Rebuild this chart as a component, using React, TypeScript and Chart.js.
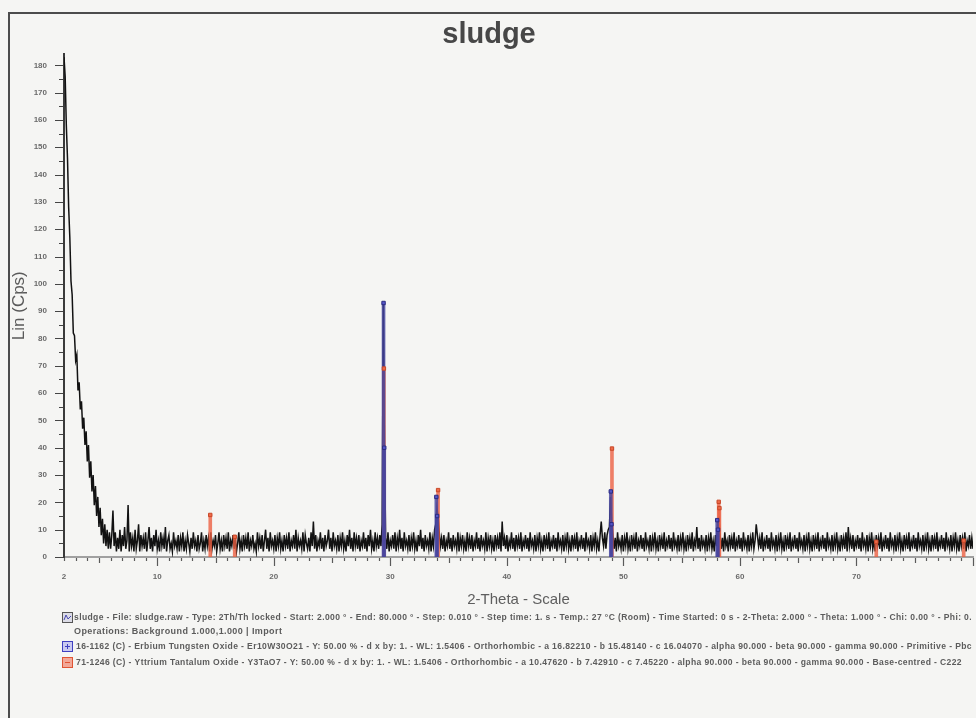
import React, { useEffect, useRef } from "react";
import { Chart, registerables } from "chart.js";

Chart.register(...registerables);

// Scan settings (2-Theta, degrees)
const scanStart = 2.0;
const scanStep = 0.1;

// Measured intensity, Lin (Cps), one row per degree from 2 to 79, then 80
const intensity: number[] = [
  183, 176, 158, 146, 128, 117, 101, 96, 82, 81,
  72, 74, 61, 64, 54, 57, 47, 51, 41, 46,
  35, 41, 29, 35, 24, 30, 19, 26, 15, 22,
  11, 18, 8, 14, 5, 12, 4, 10, 3, 9,
  3, 8, 17, 4, 9, 2, 7, 3, 10, 2,
  8, 4, 11, 3, 6, 19, 2, 9, 4, 7,
  2, 10, 3, 6, 12, 2, 8, 4, 7, 3,
  9, 2, 6, 11, 3, 7, 2, 8, 4, 10,
  3, 6, 2, 9, 4, 7, 3, 11, 2, 6,
  8, 3, 5, 2, 9, 4, 6, 3, 8, 2,
  7, 4, 9, 2, 6, 3, 8, 5, 2, 7,
  3, 9, 4, 6, 2, 8, 3, 5, 9, 2,
  6, 3, 8, 4, 7, 2, 9, 3, 6, 4,
  8, 2, 5, 9, 3, 6, 2, 8, 4, 7,
  3, 9, 2, 6, 4, 8, 3, 7, 2, 5,
  9, 3, 6, 2, 8, 4, 7, 3, 9, 2,
  6, 4, 8, 3, 5, 2, 9, 4, 7, 3,
  8, 2, 6, 10, 3, 7, 2, 9, 4, 6,
  3, 8, 2, 7, 4, 9, 3, 6, 2, 8,
  4, 7, 3, 9, 2, 6, 4, 8, 3, 10,
  2, 7, 4, 6, 3, 9, 2, 8, 5, 3,
  7, 2, 9, 4, 13, 3, 8, 2, 6, 4,
  9, 3, 7, 2, 8, 4, 6, 10, 3, 7,
  2, 9, 4, 6, 3, 8, 2, 7, 4, 9,
  3, 6, 2, 8, 4, 10, 3, 7, 2, 9,
  4, 7, 3, 8, 2, 6, 4, 9, 3, 7,
  2, 8, 4, 10, 3, 6, 2, 9, 4, 7,
  3, 8, 4, 12, 93, 40, 7, 3, 9, 2,
  6, 4, 8, 3, 9, 2, 7, 4, 10, 3,
  7, 2, 9, 4, 6, 3, 8, 2, 7, 4,
  9, 3, 6, 2, 8, 4, 10, 3, 7, 2,
  8, 4, 6, 3, 9, 2, 7, 4, 10, 12,
  18, 15, 9, 4, 7, 3, 8, 2, 6, 4,
  9, 3, 7, 2, 8, 4, 6, 3, 9, 2,
  7, 4, 8, 3, 6, 2, 9, 4, 7, 3,
  8, 2, 6, 4, 9, 3, 7, 2, 8, 4,
  6, 3, 9, 2, 7, 4, 8, 3, 6, 2,
  8, 4, 7, 3, 9, 2, 13, 4, 7, 3,
  8, 2, 6, 4, 9, 3, 7, 2, 8, 4,
  7, 3, 9, 2, 6, 4, 8, 3, 7, 2,
  9, 4, 6, 3, 8, 2, 7, 4, 9, 3,
  6, 2, 8, 4, 7, 3, 9, 2, 6, 4,
  8, 3, 7, 2, 9, 4, 6, 3, 8, 2,
  7, 4, 9, 3, 6, 2, 8, 4, 7, 3,
  9, 2, 6, 4, 8, 3, 7, 2, 9, 4,
  6, 3, 8, 2, 7, 4, 9, 3, 6, 2,
  8, 13, 7, 4, 9, 3, 8, 10, 11, 22,
  13, 8, 3, 7, 2, 9, 4, 6, 3, 8,
  2, 7, 4, 9, 3, 6, 2, 8, 4, 7,
  3, 9, 2, 6, 4, 8, 3, 7, 2, 9,
  4, 6, 3, 8, 2, 7, 4, 9, 3, 6,
  2, 8, 4, 7, 3, 9, 2, 6, 4, 8,
  3, 7, 2, 9, 4, 6, 3, 8, 2, 7,
  4, 9, 3, 6, 2, 8, 4, 7, 3, 9,
  2, 6, 4, 11, 3, 7, 2, 8, 4, 6,
  3, 8, 2, 7, 4, 9, 3, 6, 2, 8,
  4, 13, 14, 8, 3, 7, 2, 9, 4, 6,
  2, 8, 4, 7, 3, 9, 2, 6, 4, 8,
  3, 7, 2, 9, 4, 6, 3, 8, 2, 7,
  4, 9, 3, 6, 12, 8, 4, 7, 3, 9,
  2, 6, 4, 8, 3, 7, 2, 9, 4, 6,
  3, 8, 2, 7, 4, 9, 3, 6, 2, 8,
  4, 7, 3, 9, 2, 6, 4, 8, 3, 7,
  2, 9, 4, 6, 3, 8, 2, 7, 4, 9,
  3, 6, 2, 8, 4, 7, 3, 9, 2, 6,
  4, 8, 3, 7, 2, 9, 4, 6, 3, 8,
  2, 7, 4, 9, 3, 6, 2, 8, 4, 7,
  3, 9, 2, 11, 4, 7, 3, 8, 2, 6,
  4, 8, 3, 7, 2, 9, 4, 6, 3, 8,
  2, 7, 4, 9, 3, 6, 2, 8, 4, 7,
  3, 9, 2, 6, 4, 8, 3, 7, 2, 9,
  4, 6, 3, 8, 2, 7, 4, 9, 3, 6,
  2, 8, 4, 7, 3, 9, 2, 6, 4, 8,
  3, 7, 2, 9, 4, 6, 3, 8, 2, 7,
  4, 9, 3, 6, 2, 8, 4, 7, 3, 9,
  2, 6, 4, 8, 3, 7, 2, 9, 4, 6,
  3, 8, 2, 7, 4, 9, 3, 6, 2, 8,
  4, 7, 3, 9, 2, 6, 4, 8, 3, 7,
  3,
];

// Reference pattern 16-1162 (Erbium Tungsten Oxide): line positions and heights
const erbiumAngles = [29.42, 29.48, 33.95, 34.02, 48.92, 48.98, 58.05, 58.12];
const erbiumHeights = [93, 40, 22, 15, 24, 12, 13.5, 10];

// Reference pattern 71-1246 (Yttrium Tantalum Oxide): line positions and heights
const yttriumAngles = [14.55, 16.65, 29.45, 34.1, 49.02, 58.18, 58.24, 71.7, 79.2];
const yttriumHeights = [15.4, 7.4, 69, 24.5, 39.7, 20.2, 17.9, 5.6, 6];

// Axis labels
const xLabelValues = [2, 10, 20, 30, 40, 50, 60, 70];
const yTickStep = 10;

const scanInfo =
  "sludge - File: sludge.raw - Type: 2Th/Th locked - Start: 2.000 ° - End: 80.000 ° - Step: 0.010 ° - Step time: 1. s - Temp.: 27 °C (Room) - Time Started: 0 s - 2-Theta: 2.000 ° - Theta: 1.000 ° - Chi: 0.00 ° - Phi: 0.";
const scanOps = "Operations: Background 1.000,1.000 | Import";
const erbiumInfo =
  "16-1162 (C) - Erbium Tungsten Oxide - Er10W30O21 - Y: 50.00 % - d x by: 1. - WL: 1.5406 - Orthorhombic - a 16.82210 - b 15.48140 - c 16.04070 - alpha 90.000 - beta 90.000 - gamma 90.000 - Primitive - Pbc";
const yttriumInfo =
  "71-1246 (C) - Yttrium Tantalum Oxide - Y3TaO7 - Y: 50.00 % - d x by: 1. - WL: 1.5406 - Orthorhombic - a 10.47620 - b 7.42910 - c 7.45220 - alpha 90.000 - beta 90.000 - gamma 90.000 - Base-centred - C222";

const FONT = "'Liberation Sans', Arial, sans-serif";

const tracePoints = intensity.map((y, i) => ({
  x: Math.round((scanStart + i * scanStep) * 10) / 10,
  y,
}));
const erbiumPoints = erbiumAngles.map((x, i) => ({ x, y: erbiumHeights[i] }));
const yttriumPoints = yttriumAngles.map((x, i) => ({ x, y: yttriumHeights[i] }));

// Legend block under the axis title: text row and icon per entry
const legendRows = [
  { text: scanInfo, x: 74, y: 618, maxW: 898, icon: "scan" },
  { text: scanOps, x: 74, y: 632, maxW: 222, icon: "" },
  { text: erbiumInfo, x: 76, y: 647, maxW: 896, icon: "blue" },
  { text: yttriumInfo, x: 76, y: 663, maxW: 886, icon: "red" },
];

const decorPlugin = {
  id: "decor",
  beforeDraw(chart: any) {
    const { ctx, width, height } = chart;
    ctx.save();
    ctx.fillStyle = "#f5f5f3";
    ctx.fillRect(0, 0, width, height);
    // frame around the report
    ctx.strokeStyle = "#4c4c4c";
    ctx.lineWidth = 2;
    ctx.beginPath();
    ctx.moveTo(9, height);
    ctx.lineTo(9, 13);
    ctx.lineTo(width, 13);
    ctx.stroke();
    ctx.restore();
  },
  afterDraw(chart: any) {
    const { ctx, chartArea } = chart;
    const xs = chart.scales.x;
    const ys = chart.scales.y;
    ctx.save();
    // x tick marks: every degree, longer at 5 and 10
    ctx.strokeStyle = "#5a5a5a";
    ctx.lineWidth = 1.2;
    ctx.beginPath();
    for (let v = Math.ceil(xs.min); v <= xs.max; v++) {
      const px = Math.round(xs.getPixelForValue(v)) + 0.5;
      const len = v % 10 === 0 ? 8 : v % 5 === 0 ? 5 : 3;
      ctx.moveTo(px, chartArea.bottom + 1);
      ctx.lineTo(px, chartArea.bottom + 1 + len);
    }
    ctx.stroke();
    // y tick marks: every 5, longer at 10
    ctx.strokeStyle = "#444";
    ctx.beginPath();
    for (let v = 0; v <= 180; v += yTickStep / 2) {
      const py = Math.round(ys.getPixelForValue(v)) + 0.5;
      const len = v % yTickStep === 0 ? 8 : 4;
      ctx.moveTo(chartArea.left - 1, py);
      ctx.lineTo(chartArea.left - 1 - len, py);
    }
    ctx.stroke();

    // legend rows
    ctx.font = `bold 9px ${FONT}`;
    ctx.fillStyle = "#5c5c5c";
    ctx.textBaseline = "middle";
    ctx.textAlign = "left";
    (ctx as any).letterSpacing = "0.4px";
    for (const row of legendRows) {
      ctx.fillText(row.text, row.x, row.y, row.maxW);
      const ix = 62;
      const iy = row.y - 6;
      if (row.icon === "scan") {
        ctx.fillStyle = "#dcdce6";
        ctx.fillRect(ix, iy, 11, 11);
        ctx.strokeStyle = "#555";
        ctx.lineWidth = 1;
        ctx.strokeRect(ix + 0.5, iy + 0.5, 10, 10);
        ctx.strokeStyle = "#4848b0";
        ctx.beginPath();
        ctx.moveTo(ix + 2, iy + 8);
        ctx.lineTo(ix + 4, iy + 3);
        ctx.lineTo(ix + 6, iy + 7);
        ctx.lineTo(ix + 9, iy + 4);
        ctx.stroke();
        ctx.fillStyle = "#5c5c5c";
      } else if (row.icon === "blue") {
        ctx.fillStyle = "#c9c9f0";
        ctx.fillRect(ix, iy, 11, 11);
        ctx.strokeStyle = "#4040c0";
        ctx.lineWidth = 1;
        ctx.strokeRect(ix + 0.5, iy + 0.5, 10, 10);
        ctx.beginPath();
        ctx.moveTo(ix + 3, iy + 5.5);
        ctx.lineTo(ix + 8, iy + 5.5);
        ctx.moveTo(ix + 5.5, iy + 3);
        ctx.lineTo(ix + 5.5, iy + 8);
        ctx.stroke();
        ctx.fillStyle = "#5c5c5c";
      } else if (row.icon === "red") {
        ctx.fillStyle = "#f2a898";
        ctx.fillRect(ix, iy, 11, 11);
        ctx.strokeStyle = "#e05434";
        ctx.lineWidth = 1;
        ctx.strokeRect(ix + 0.5, iy + 0.5, 10, 10);
        ctx.beginPath();
        ctx.moveTo(ix + 3, iy + 5.5);
        ctx.lineTo(ix + 8, iy + 5.5);
        ctx.stroke();
        ctx.fillStyle = "#5c5c5c";
      }
    }
    ctx.restore();
  },
};

export default function App() {
  const canvasRef = useRef<HTMLCanvasElement | null>(null);

  useEffect(() => {
    document.body.style.margin = "0";
    const canvas = canvasRef.current;
    if (!canvas) return;

    const chart = new Chart(canvas, {
      type: "line",
      data: {
        datasets: [
          {
            type: "scatter",
            label: "Er10W30O21 markers",
            data: erbiumPoints,
            pointStyle: "rect",
            pointRadius: 2.4,
            backgroundColor: "#5454c8",
            borderColor: "#2c2c80",
            borderWidth: 1,
            order: 0,
          } as any,
          {
            type: "scatter",
            label: "Y3TaO7 markers",
            data: yttriumPoints,
            pointStyle: "rect",
            pointRadius: 2.4,
            backgroundColor: "#ee6a48",
            borderColor: "#c84828",
            borderWidth: 1,
            order: 1,
          } as any,
          {
            type: "bar",
            label: "Er10W30O21",
            data: erbiumPoints,
            backgroundColor: "rgba(68,68,160,0.82)",
            barThickness: 3,
            grouped: false,
            borderWidth: 0,
            order: 2,
          } as any,
          {
            type: "bar",
            label: "Y3TaO7",
            data: yttriumPoints,
            backgroundColor: "rgba(236,96,66,0.8)",
            barThickness: 3,
            grouped: false,
            borderWidth: 0,
            order: 3,
          } as any,
          {
            type: "line",
            label: "sludge",
            data: tracePoints,
            borderColor: "#121212",
            borderWidth: 1.5,
            pointRadius: 0,
            tension: 0,
            order: 4,
          } as any,
        ],
      },
      options: {
        responsive: false,
        animation: false,
        devicePixelRatio: 1,
        layout: { padding: { top: 0, left: 0, right: 0, bottom: 109 } },
        plugins: {
          legend: { display: false },
          tooltip: { enabled: false },
          title: {
            display: true,
            text: "sludge",
            color: "#474747",
            font: { family: FONT, size: 29, weight: "bold" },
            padding: { top: 18, bottom: 1.6 },
          },
        },
        scales: {
          x: {
            type: "linear",
            min: 2,
            max: 80,
            offset: false,
            grid: { display: false, drawTicks: true, tickLength: 15 },
            border: { display: true, color: "#a0a0a0", width: 2 },
            ticks: {
              stepSize: 1,
              autoSkip: false,
              maxRotation: 0,
              padding: 0,
              color: "#6a6a6a",
              font: { family: FONT, size: 8, weight: "bold" },
              callback: (v: any) => (xLabelValues.includes(Number(v)) ? String(v) : ""),
            },
            title: {
              display: true,
              text: "2-Theta - Scale",
              color: "#5e5e5e",
              font: { family: FONT, size: 15 },
              padding: { top: 0, bottom: 0 },
            },
            afterFit: (s: any) => {
              s.height = 52;
            },
          },
          y: {
            type: "linear",
            min: 0,
            max: 184,
            grid: { display: false, drawTicks: true, tickLength: 17 },
            border: { display: true, color: "#3a3a3a", width: 2 },
            ticks: {
              stepSize: yTickStep,
              includeBounds: false,
              padding: 0,
              color: "#6a6a6a",
              font: { family: FONT, size: 8, weight: "bold" },
            },
            title: {
              display: true,
              text: "Lin (Cps)",
              color: "#5a5a5a",
              font: { family: FONT, size: 17 },
              padding: { top: 9, bottom: 0 },
            },
            afterFit: (s: any) => {
              s.width = 64;
            },
          },
        },
      } as any,
      plugins: [decorPlugin],
    });

    return () => chart.destroy();
  }, []);

  return (
    <div style={{ width: 976, height: 718, overflow: "hidden", position: "relative" }}>
      <canvas
        ref={canvasRef}
        width={978}
        height={718}
        style={{ display: "block", width: 978, height: 718 }}
      />
    </div>
  );
}
